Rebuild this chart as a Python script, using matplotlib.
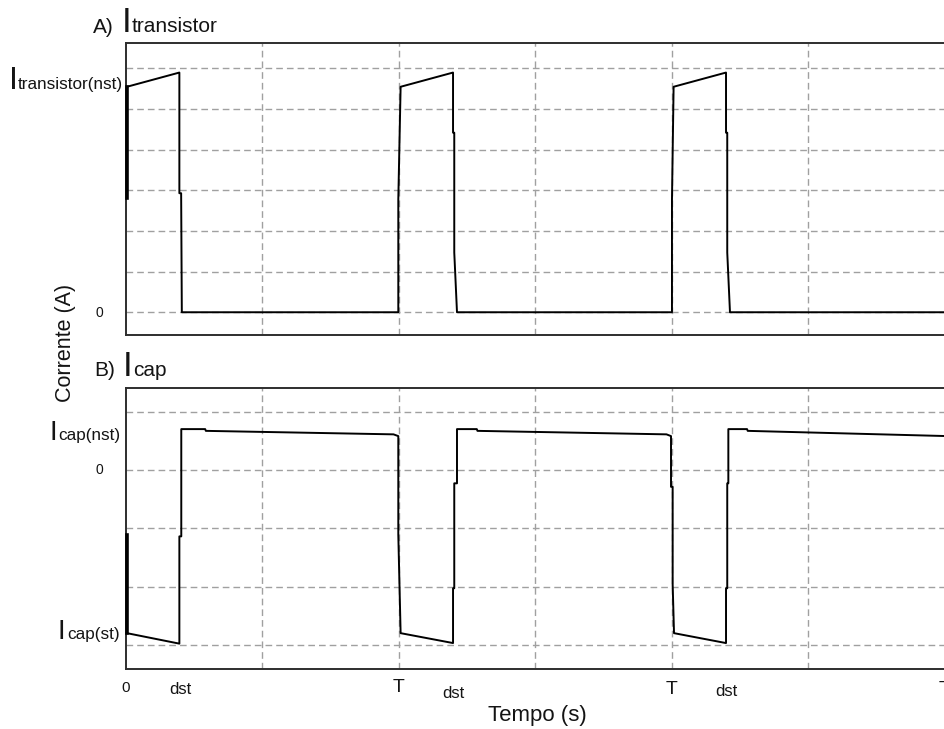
import matplotlib
matplotlib.use("Agg")
import matplotlib.pyplot as plt

plt.rcParams['font.family'] = ['Liberation Sans', 'DejaVu Sans']

# Time axis: one switching period T spans two grid divisions
t_transistor = [0.007, 0.007, 0.391, 0.391, 0.404, 0.409,
                1.995, 1.995, 2.012, 2.396, 2.396, 2.405, 2.405, 2.425,
                4.000, 4.000, 4.012, 4.396, 4.396, 4.405, 4.405, 4.425, 6.02]
i_transistor = [2.82, 5.55, 5.90, 2.93, 2.93, 0.0,
                0.0, 2.77, 5.55, 5.90, 4.42, 4.42, 1.47, 0.0,
                0.0, 2.77, 5.55, 5.90, 4.42, 4.42, 1.47, 0.0, 0.0]

t_cap = [0.007, 0.007, 0.391, 0.391, 0.405, 0.405, 0.58, 0.585,
         1.960, 1.995, 1.995, 2.012, 2.396, 2.396, 2.405, 2.405, 2.425, 2.425,
         2.57, 2.575,
         3.960, 3.993, 3.993, 4.005, 4.005, 4.015, 4.396, 4.396, 4.405, 4.405,
         4.413, 4.413, 4.55, 4.555, 6.02]
i_cap = [-1.12, -2.80, -2.98, -1.14, -1.14, 0.70, 0.70, 0.67,
         0.61, 0.58, -1.11, -2.80, -2.97, -2.03, -2.03, -0.23, -0.23, 0.70,
         0.70, 0.67,
         0.61, 0.58, -0.29, -0.29, -1.96, -2.80, -2.97, -2.03, -2.03, -0.23,
         -0.23, 0.70, 0.70, 0.67, 0.58]

x_tick_pos = [0.0, 0.40, 2.0, 2.40, 4.0, 4.40, 6.0]
x_tick_text = ['0', 'dst', 'T', 'dst', 'T', 'dst', 'T']

W, H, DPI = 944, 729, 100
fig = plt.figure(figsize=(W / DPI, H / DPI), dpi=DPI)

INK = '#141414'
GRID = '#a0a0a0'
SPINE = '#2e2e2e'


def px_axes(left, top, right, bottom):
    return fig.add_axes([left / W, 1 - bottom / H, (right - left) / W, (bottom - top) / H])


def style(ax, ylim, ygrid):
    ax.set_xlim(0, 6.015)
    ax.set_ylim(*ylim)
    for v in range(1, 7):
        ax.axvline(v, color=GRID, lw=1.0, ls=(0, (4.8, 2.9)), zorder=1)
    for v in ygrid:
        ax.axhline(v, color=GRID, lw=1.0, ls=(0, (4.8, 2.9)), zorder=1)
    ax.set_xticks([])
    ax.set_yticks([])
    ax.spines['right'].set_visible(False)
    for s in ('left', 'top', 'bottom'):
        ax.spines[s].set_color(SPINE)
        ax.spines[s].set_linewidth(1.4)


ax1 = px_axes(126, 43.3, 947, 335)
style(ax1, (-0.56, 6.62), range(0, 7))
ax1.plot(t_transistor, i_transistor, color='black', lw=1.4, zorder=3, clip_on=False)
ax1.plot(t_transistor[:2], i_transistor[:2], color='black', lw=2.6, zorder=3, clip_on=False)

ax2 = px_axes(126, 388.3, 947, 669.3)
style(ax2, (-3.42, 1.40), range(-3, 2))
ax2.plot(t_cap, i_cap, color='black', lw=1.4, zorder=3, clip_on=False)
ax2.plot(t_cap[:2], i_cap[:2], color='black', lw=2.6, zorder=3, clip_on=False)


def ptext(x, y, s, size, ha='left', va='baseline', **kw):
    fig.text(x / W, 1 - y / H, s, fontsize=size, ha=ha, va=va, color=INK, **kw)


# Panel titles with a large "I" followed by the smaller name
ptext(93, 33, 'A)', 15)
ptext(122, 32, 'I', 25)
ptext(132, 32, 'transistor', 15)
ptext(94, 376, 'B)', 15)
ptext(123, 376, 'I', 25)
ptext(133, 376, 'cap', 15)

# Y-axis level labels
ptext(9, 89, 'I', 23)
ptext(18, 89, 'transistor(nst)', 12.3)
ptext(103, 313, '0', 10, ha='right', va='center')
ptext(49, 440, 'I', 20)
ptext(58, 440, 'cap(nst)', 12.3)
ptext(103, 470, '0', 10, ha='right', va='center')
ptext(58, 639, 'I', 20)
ptext(67, 639, 'cap(st)', 12.3)

# Time-axis labels, drawn at their data positions on the lower panel
x_label_py = [688, 689, 688, 693, 690, 692, 690]
x_label_sz = [11, 12, 14, 12, 14, 12, 14]
for xv, yp, sz, txt in zip(x_tick_pos, x_label_py, x_label_sz, x_tick_text):
    xfig = ax2.transData.transform((xv, 0))[0] / W
    fig.text(xfig, 1 - yp / H, txt, fontsize=sz, ha='center', va='center', color=INK)

ptext(537, 716, 'Tempo (s)', 16, ha='center', va='center')
ptext(66, 343, 'Corrente (A)', 15.5, ha='center', va='center', rotation=90)

fig.savefig('out.png', dpi=DPI)
